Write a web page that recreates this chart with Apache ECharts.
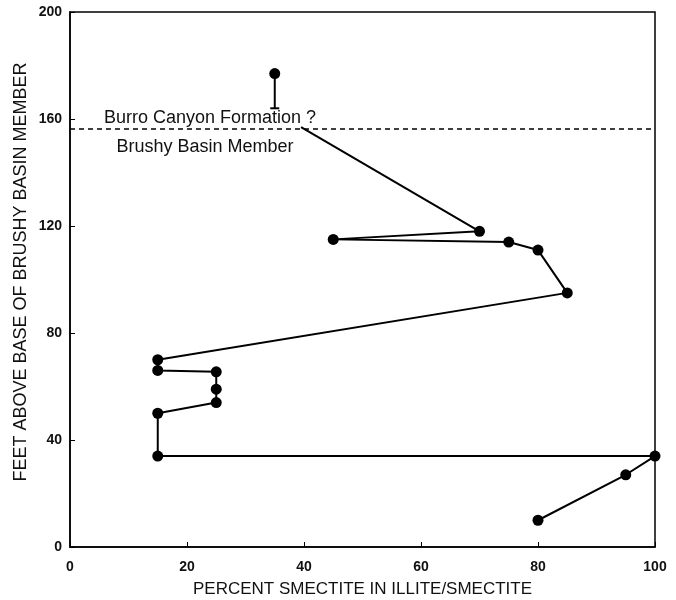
<!DOCTYPE html>
<html>
    <head>
        <meta charset="utf-8">
        <script src="https://cdn.jsdelivr.net/npm/echarts@6/dist/echarts.min.js"></script>
    </head>
    <body style="margin:0">
        <style>
            html, body, #main {
                width: 676px;
                height: 600px;
                background: #fff;
            }
        </style>
        <div id="main"></div>
        <script>
            // percent smectite vs feet above base
            var profile = [
                [70, 118], [45, 115], [75, 114], [80, 111], [85, 95],
                [15, 70], [15, 66], [25, 65.5], [25, 59], [25, 54],
                [15, 50], [15, 34], [100, 34], [95, 27], [80, 10]
            ];
            var burroSample = [[35, 177], [35, 164]];
            var leaderLine = [[39.5, 157], [70, 118]];
            var contactDepth = 156.5;
            var xTicks = [0, 20, 40, 60, 80, 100];
            var yTicks = [0, 40, 80, 120, 160, 200];

            var chart = echarts.init(document.getElementById('main'));
            var font = '"Liberation Sans", Arial, sans-serif';

            chart.setOption({
                animation: false,
                grid: {
                    left: 70, right: 21, top: 12, bottom: 53,
                    outerBoundsMode: 'none',
                    show: true,
                    borderColor: '#000',
                    borderWidth: 1.5
                },
                xAxis: {
                    type: 'value',
                    min: xTicks[0], max: xTicks[xTicks.length - 1], interval: 20,
                    name: 'PERCENT SMECTITE IN ILLITE/SMECTITE',
                    nameLocation: 'middle',
                    nameGap: 34,
                    nameTextStyle: { fontFamily: font, fontSize: 17, color: '#111' },
                    axisLine: { lineStyle: { color: '#000', width: 1.5 } },
                    axisTick: { inside: true, length: 5, lineStyle: { color: '#000' } },
                    axisLabel: { fontFamily: font, fontSize: 14, fontWeight: 'bold', color: '#111', margin: 13 },
                    splitLine: { show: false }
                },
                yAxis: {
                    type: 'value',
                    min: yTicks[0], max: yTicks[yTicks.length - 1], interval: 40,
                    axisLine: { lineStyle: { color: '#000', width: 1.5 } },
                    axisTick: { inside: true, length: 5, lineStyle: { color: '#000' } },
                    axisLabel: { fontFamily: font, fontSize: 14, fontWeight: 'bold', color: '#111', margin: 8 },
                    splitLine: { show: false }
                },
                series: [{
                    type: 'line',
                    data: profile,
                    symbol: 'circle',
                    symbolSize: 11,
                    lineStyle: { color: '#000', width: 2 },
                    itemStyle: { color: '#000' },
                    markLine: {
                        silent: true,
                        symbol: 'none',
                        lineStyle: { color: '#000', type: [5, 4], width: 1.5 },
                        label: { show: false },
                        data: [{ yAxis: contactDepth }]
                    }
                }, {
                    type: 'line',
                    data: leaderLine,
                    symbol: 'none',
                    lineStyle: { color: '#000', width: 2 }
                }, {
                    type: 'line',
                    data: [
                        { value: burroSample[0], symbol: 'circle', symbolSize: 11 },
                        { value: burroSample[1], symbol: 'rect', symbolSize: [9, 2] }
                    ],
                    lineStyle: { color: '#000', width: 2 },
                    itemStyle: { color: '#000' }
                }],
                graphic: [{
                    type: 'text',
                    x: 210, y: 118,
                    style: {
                        text: 'Burro Canyon Formation ?',
                        font: '18px ' + font,
                        fill: '#111',
                        align: 'center',
                        verticalAlign: 'middle'
                    }
                }, {
                    type: 'text',
                    x: 205, y: 147,
                    style: {
                        text: 'Brushy Basin Member',
                        font: '18px ' + font,
                        fill: '#111',
                        align: 'center',
                        verticalAlign: 'middle'
                    }
                }, {
                    type: 'text',
                    x: 21, y: 272,
                    rotation: Math.PI / 2,
                    style: {
                        text: 'FEET ABOVE BASE OF BRUSHY BASIN MEMBER',
                        font: '18px ' + font,
                        fill: '#111',
                        align: 'center',
                        verticalAlign: 'middle'
                    }
                }]
            });
        </script>
    </body>
</html>
